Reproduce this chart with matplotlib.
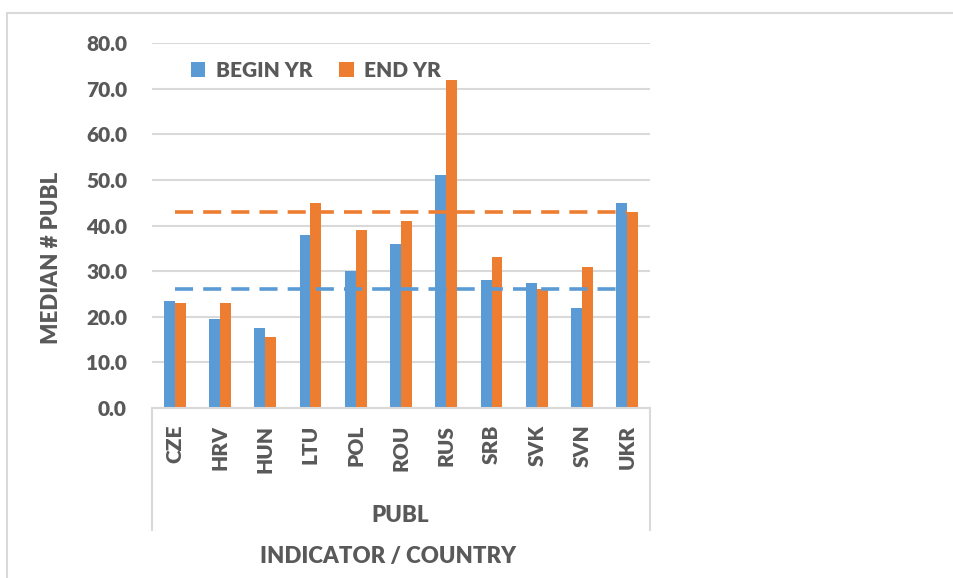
import matplotlib.pyplot as plt
import numpy as np
from matplotlib.patches import Rectangle
from matplotlib.lines import Line2D

# data
countries = ['CZE', 'HRV', 'HUN', 'LTU', 'POL', 'ROU', 'RUS', 'SRB', 'SVK', 'SVN', 'UKR']
begin_yr = [23.5, 19.5, 17.5, 38.0, 30.0, 36.0, 51.0, 28.0, 27.5, 22.0, 45.0]
end_yr = [23.0, 23.0, 15.5, 45.0, 39.0, 41.0, 72.0, 33.0, 26.0, 31.0, 43.0]
begin_ref = 26.0
end_ref = 43.0

blue = '#5B9BD5'
orange = '#ED7D31'
grey = '#595959'
light = '#D9D9D9'

plt.rcParams['font.family'] = ['Lato', 'DejaVu Sans']
fp = dict(fontweight='heavy', color=grey)

fig = plt.figure(figsize=(9.54, 5.78), dpi=100)
ax = fig.add_axes([152/954, 1-408/578, (650-152)/954, (408-43)/578])

x = np.arange(len(countries))
w = 0.24
ax.bar(x - w/2, begin_yr, w, color=blue, label='BEGIN YR', zorder=2)
ax.bar(x + w/2, end_yr, w, color=orange, label='END YR', zorder=2)

# reference lines (first to last category)
ax.plot([x[0], x[-1]], [end_ref, end_ref], color=orange, lw=2.6,
        dashes=(5, 2.8), zorder=3)
ax.plot([x[0], x[-1]], [begin_ref, begin_ref], color=blue, lw=2.6,
        dashes=(5, 2.8), zorder=3)

ax.set_xlim(-0.5, len(countries) - 0.5)
ax.set_ylim(0, 80)
ax.set_yticks(np.arange(0, 81, 10))
ax.set_yticklabels(['%.1f' % v for v in np.arange(0, 81, 10)], fontsize=15, **fp)
ax.yaxis.grid(True, color=light, lw=1.5, zorder=0)
ax.set_axisbelow(True)

for s in ['top', 'right', 'left']:
    ax.spines[s].set_visible(False)
ax.spines['bottom'].set_color(light)
ax.spines['bottom'].set_linewidth(1.5)

ax.tick_params(axis='y', length=0, pad=18)
ax.set_xticks(x)
ax.set_xticklabels(countries, rotation=90, fontsize=15, **fp)
ax.tick_params(axis='x', length=0, pad=12)

# category box lines below plot
for xx in [0, 1]:
    ax.add_line(Line2D([xx, xx], [0, -122/365], transform=ax.transAxes,
                       color=light, lw=1.5, clip_on=False))

fig.text(400/954, 1-515/578, 'PUBL', ha='center', va='center',
         fontsize=16, **fp)
fig.text(388/954, 1-557/578, 'INDICATOR / COUNTRY', ha='center', va='center',
         fontsize=16, **fp)
ax.set_ylabel('MEDIAN # PUBL', fontsize=16, **fp)
ax.yaxis.set_label_coords(-90/498, 0.41)

leg = ax.legend(loc='center', bbox_to_anchor=(316/954, 1-70/578),
                bbox_transform=fig.transFigure, ncol=2, frameon=False,
                prop={'size': 15, 'weight': 'heavy'}, labelcolor=grey,
                handlelength=0.7, handleheight=0.7,
                handletextpad=0.5, columnspacing=1.3)

# outer chart frame
fig.patches.append(Rectangle((7/954, -0.1), 1.2, 1.1 - 13/578,
                             transform=fig.transFigure, fill=False,
                             edgecolor=light, lw=1.5))

fig.savefig('out.png', dpi=100)
